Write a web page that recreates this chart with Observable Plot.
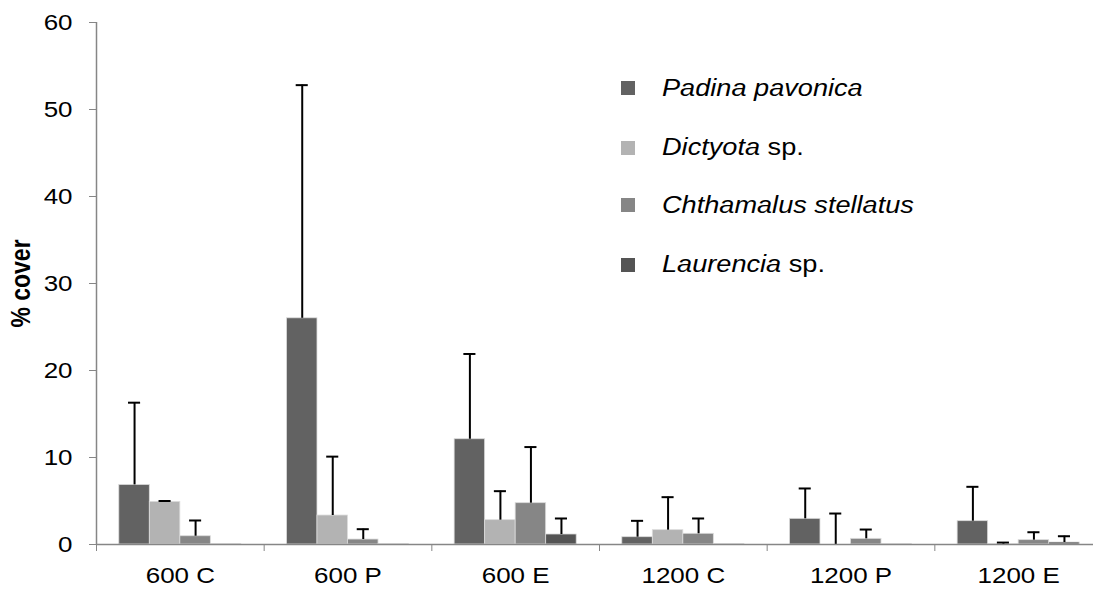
<!DOCTYPE html>
<html>
<head>
<meta charset="utf-8">
<script src="https://cdn.jsdelivr.net/npm/d3@7"></script>
<script src="https://cdn.jsdelivr.net/npm/@observablehq/plot@0.6"></script>
<style>
  html, body { margin: 0; padding: 0; background: #fff; overflow: hidden; }
  #wrap { position: relative; width: 1093px; height: 589px; font-family: "Liberation Sans", Arial, sans-serif; }
  .leg { position: absolute; left: 621px; display: flex; align-items: center; height: 30px; font-size: 23px; color: #000; white-space: nowrap; }
  .leg .sw { width: 14px; height: 14px; margin-right: 27px; flex: none; }
  .leg .lab { display: inline-block; transform: scaleX(1.18); transform-origin: left center; }
  .leg i { font-style: italic; }
</style>
</head>
<body>
<div id="wrap"></div>
<script>
// ---- data ----
const groups = ["600 C", "600 P", "600 E", "1200 C", "1200 P", "1200 E"];
const species = ["Padina pavonica", "Dictyota sp.", "Chthamalus stellatus", "Laurencia sp."];
const speciesItalic = ["Padina pavonica", "Dictyota", "Chthamalus stellatus", "Laurencia"];
const speciesSuffix = ["", " sp.", "", " sp."];
const colors = ["#626262", "#b3b3b3", "#868686", "#545454"];

const padinaMean = [6.85, 26.0, 12.1, 0.84, 2.95, 2.68];
const padinaSD   = [9.45, 26.8, 9.8, 1.88, 3.49, 3.95];
const dictyotaMean = [4.9, 3.33, 2.8, 1.65, 0, 0.02];
const dictyotaSD   = [0.1, 6.77, 3.33, 3.79, 3.56, 0.2];
const chthamalusMean = [0.95, 0.57, 4.75, 1.23, 0.65, 0.5];
const chthamalusSD   = [1.81, 1.19, 6.45, 1.76, 1.07, 0.91];
const laurenciaMean = [0.02, 0.02, 1.15, 0.05, 0.02, 0.23];
const laurenciaSD   = [0, 0, 1.84, 0, 0, 0.72];

const yTicks = [0, 10, 20, 30, 40, 50, 60];
const yLabel = "% cover";

const means = [padinaMean, dictyotaMean, chthamalusMean, laurenciaMean];
const sds = [padinaSD, dictyotaSD, chthamalusSD, laurenciaSD];

const rows = groups.flatMap((g, gi) => species.map((s, si) => ({
  group: g, gi, species: s, si, mean: means[si][gi], sd: sds[si][gi]
})));

// layout within a group (in group units)
const PAD = 0.136, BW = 0.182, CAP = 0.036;
const STRETCH = 1.18; // horizontal stretch of the reference's text
const left = d => d.gi + PAD + d.si * BW;
const center = d => left(d) + BW / 2;

const plot = Plot.plot({
  width: 1093,
  height: 589,
  marginLeft: 96,
  marginRight: -9,
  marginTop: 22,
  marginBottom: 45,
  style: { fontFamily: "'Liberation Sans', Arial, sans-serif", fontSize: "22px", background: "#fff", overflow: "hidden" },
  x: { type: "linear", domain: [0, groups.length], axis: null, label: null },
  y: { domain: [0, 60], axis: null, label: null },
  color: { domain: species, range: colors },
  marks: [
    Plot.rect(rows, {
      x1: left, x2: d => left(d) + BW,
      y1: 0, y2: "mean",
      fill: "species", stroke: "#dcdcdc", strokeWidth: 0.8
    }),
    Plot.ruleX(rows.filter(d => d.sd > 0), {
      x: center, y1: "mean", y2: d => d.mean + d.sd,
      stroke: "#000", strokeWidth: 2
    }),
    Plot.ruleY(rows.filter(d => d.sd > 0), {
      x1: d => center(d) - CAP, x2: d => center(d) + CAP,
      y: d => d.mean + d.sd,
      stroke: "#000", strokeWidth: 2
    }),
    // axes
    Plot.ruleX([0], { y1: 0, y2: 60, stroke: "#868686", strokeWidth: 1.5 }),
    Plot.ruleY([0], { x1: 0, x2: groups.length, stroke: "#868686", strokeWidth: 1.5 }),
    Plot.axisY({ ticks: yTicks, label: null, tickSize: 7, tickPadding: 17, fontSize: 22, stroke: "#868686", fill: "#000", tickFormat: d => String(d) }),
    Plot.axisX({ ticks: d3.range(0, groups.length + 1), label: null, tickSize: 7, stroke: "#868686", tickFormat: () => "" }),
    Plot.axisX({ ticks: groups.map((g, i) => i + 0.5), label: null, tickSize: 0, tickPadding: 23, fontSize: 22, fill: "#000",
      tickFormat: d => groups[Math.floor(d)] }),
    Plot.text([yLabel], { frameAnchor: "left", textAnchor: "middle", rotate: -90, dx: -75, fontWeight: "bold", fontSize: 23, fill: "#000" })
  ]
});

// stretch text horizontally like the reference
const isNum = v => v != null && /^\s*-?[\d.]+(e-?\d+)?\s*$/.test(v);
plot.querySelectorAll("text").forEach(t => {
  if (!t.textContent) return;
  const xa = t.getAttribute("x"), ya = t.getAttribute("y");
  let tx = 0, ty = 0;
  if (isNum(xa)) { tx = +xa; t.removeAttribute("x"); }
  if (isNum(ya)) { ty = +ya; t.removeAttribute("y"); }
  const tr = t.getAttribute("transform") || "";
  const rotated = /rotate/.test(tr);
  t.setAttribute("transform", `${tr} translate(${tx},${ty}) ${rotated ? `scale(1,${STRETCH})` : `scale(${STRETCH},1)`}`);
});

const wrap = document.getElementById("wrap");
wrap.appendChild(plot);

// legend (HTML overlay)
const legendCenters = [88, 147.5, 205, 264.5];
species.forEach((s, i) => {
  const row = document.createElement("div");
  row.className = "leg";
  row.style.top = (legendCenters[i] - 15) + "px";
  row.innerHTML = `<span class="sw" style="background:${colors[i]}"></span><span class="lab"><i>${speciesItalic[i]}</i>${speciesSuffix[i]}</span>`;
  wrap.appendChild(row);
});
</script>
</body>
</html>
